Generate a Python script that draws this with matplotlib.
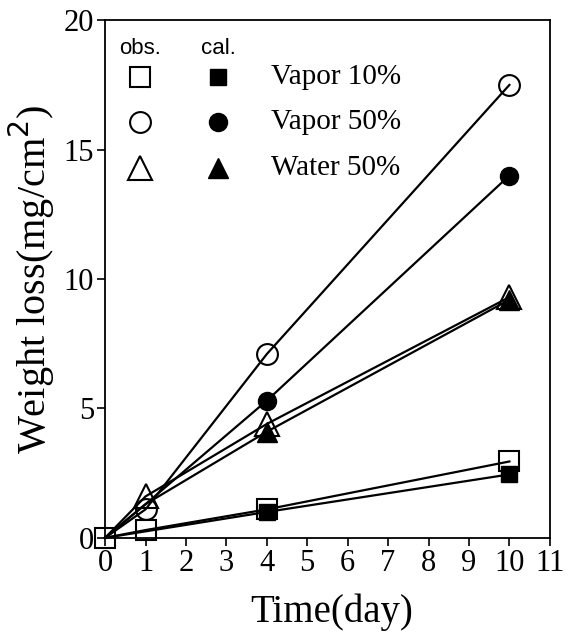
import numpy as np
import matplotlib.pyplot as plt

# data
days = [0, 1, 4, 10]
vap10_obs = [0, 0.3, 1.1, 2.95]
vap10_cal = [0, 0.25, 1.0, 2.45]
vap50_obs = [0, 1.1, 7.1, 17.5]
vap50_cal = [0, 1.3, 5.3, 14.0]
wat50_obs = [0, 1.6, 4.4, 9.3]
wat50_cal = [0, 1.3, 4.1, 9.2]

labels = ['Vapor 10%', 'Vapor 50%', 'Water 50%']
markers = ['s', 'o', '^']
sizes = [14, 15, 17]

plt.rcParams['font.family'] = ['Liberation Serif', 'DejaVu Serif']

fig = plt.figure(figsize=(5.68, 6.32), dpi=100)
ax = fig.add_axes([0.185, 0.149, 0.783, 0.819])

obs = [vap10_obs, vap50_obs, wat50_obs]
cal = [vap10_cal, vap50_cal, wat50_cal]
# only the square is drawn at the origin
obs_every = [[0, 1, 2, 3], [1, 2, 3], [1, 2, 3]]
for m, s, yo, yc, ev in zip(markers, sizes, obs, cal, obs_every):
    # calculated markers only shown at day 4 and 10
    ax.plot(days, yc, color='k', lw=1.6, marker=m, ms=s - 2, mfc='k', mec='k',
            markevery=[2, 3], clip_on=False, zorder=3)
    ax.plot(days, yo, color='k', lw=1.6, marker=m, ms=s, mfc='none', mec='k', mew=1.5,
            markevery=ev, clip_on=False, zorder=4)

# legend drawn by hand
leg_y = [17.8, 16.05, 14.3]
ax.text(0.86, 18.9, 'obs.', family='Liberation Sans', fontsize=16, ha='center', va='center')
ax.text(2.8, 18.9, 'cal.', family='Liberation Sans', fontsize=16, ha='center', va='center')
for m, s, yy, lab in zip(markers, sizes, leg_y, labels):
    ax.plot([0.86], [yy], marker=m, ms=s, mfc='none', mec='k', mew=1.5, ls='none')
    ax.plot([2.8], [yy], marker=m, ms=s - 2, mfc='k', mec='k', ls='none')
    ax.text(4.1, yy, lab, fontsize=21, ha='left', va='center')

ax.set_xlim(0, 11)
ax.set_ylim(0, 20)
ax.set_xticks(np.arange(0, 12, 1))
ax.set_yticks([0, 5, 10, 15, 20])
ax.tick_params(labelsize=22, length=6, width=1.2, pad=2)
for sp in ax.spines.values():
    sp.set_linewidth(1.3)
ax.set_xlabel('Time(day)', fontsize=28)
ax.xaxis.set_label_coords(0.51, -0.108)
ax.set_ylabel('Weight loss(mg/cm$^2$)', fontsize=29)
ax.yaxis.set_label_coords(-0.108, 0.5)

fig.savefig('out.png', dpi=100)
